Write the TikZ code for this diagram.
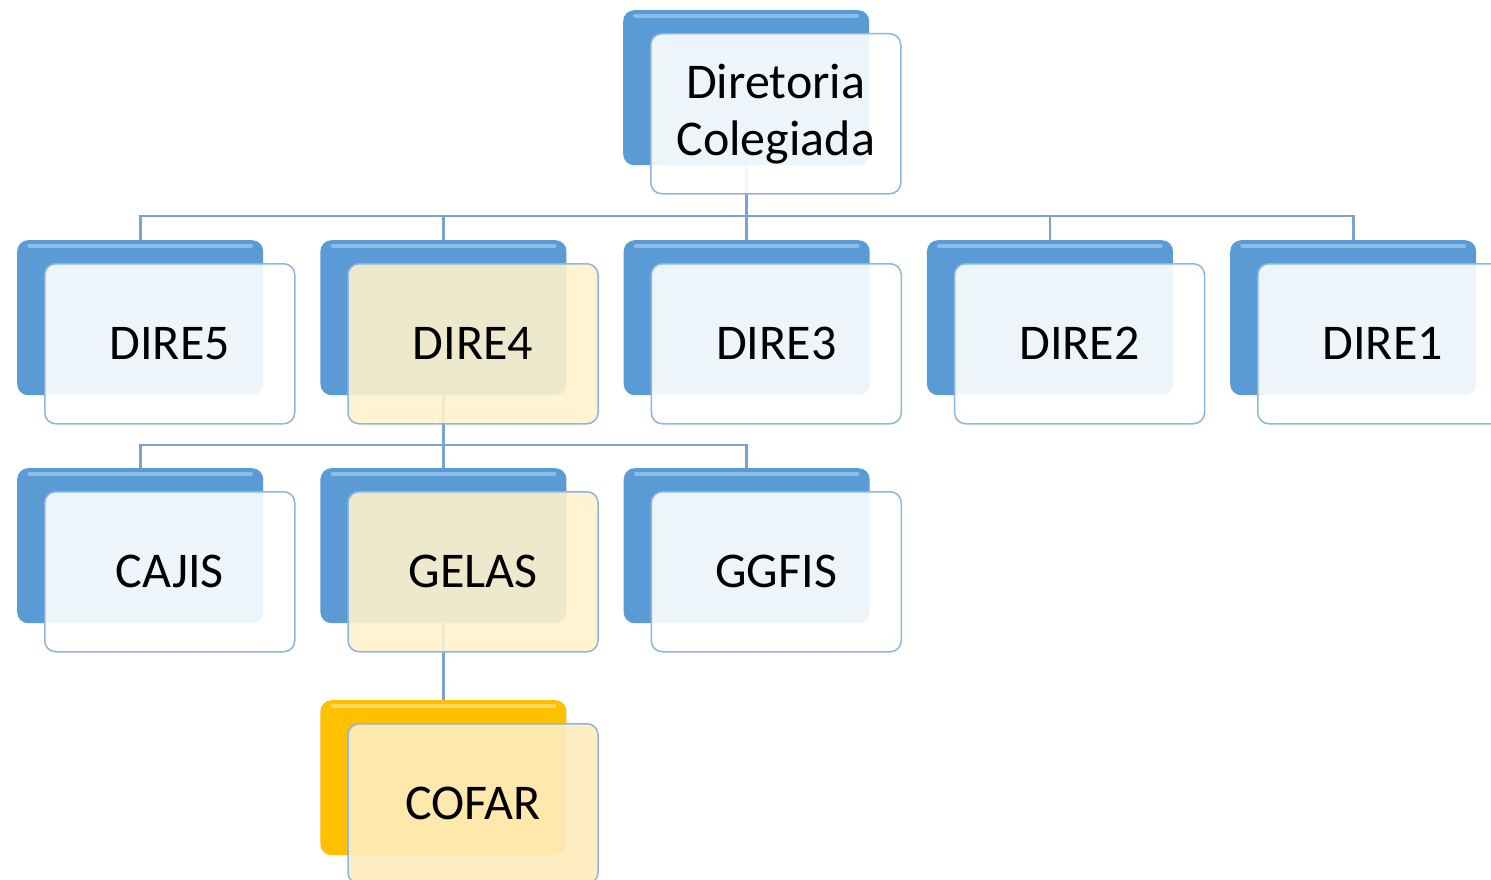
\documentclass[tikz,border=0pt]{standalone}
\usepackage{fontspec}
\setmainfont{Carlito}
\definecolor{backblue}{HTML}{5B9BD5}
\definecolor{backhi}{HTML}{9CC6EE}
\definecolor{backgold}{HTML}{FFC000}
\definecolor{goldhi}{HTML}{FFE27A}
\definecolor{frontedge}{HTML}{8DB4E2}
\definecolor{creamfill}{HTML}{FFF2CC}
\definecolor{cofarfill}{HTML}{FFEDBE}
\definecolor{connblue}{HTML}{7BA3D0}
\pgfdeclarelayer{bg}
\pgfsetlayers{bg,main}
\usetikzlibrary{calc}
\tikzset{
  backbox/.style={rounded corners=11pt, fill=#1, minimum width=246pt, minimum height=155pt, anchor=north west, inner sep=0pt},
  frontbox/.style={rounded corners=11pt, draw=frontedge, line width=1.5pt, fill=#1, fill opacity=0.9, text opacity=1,
     minimum width=250pt, minimum height=160pt, anchor=north west, inner sep=0pt, align=center,
     font=\fontsize{50}{57}\selectfont},
  hiline/.style={line width=3.5pt, line cap=round, #1, opacity=0.75},
  conn/.style={draw=connblue, line width=2.6pt}
}
% \orgunit{name}{x}{y}{back colour}{highlight colour}{front fill}{text}
\newcommand{\orgunit}[7]{%
  \node[backbox=#4] (#1-b) at (#2,#3) {};
  \draw[hiline=#5] ($(#1-b.north west)+(12pt,-6pt)$) -- ($(#1-b.north east)+(-12pt,-6pt)$);
  \node[frontbox=#6] (#1) at ($(#1-b.north west)+(27pt,-23pt)$) {#7};
}
\begin{document}
\begin{tikzpicture}[x=1pt,y=-1pt]
\useasboundingbox (0,0) rectangle (1491,880);
\orgunit{top}{623}{10}{backblue}{backhi}{white}{Diretoria\\Colegiada}
\orgunit{d5}{17}{240}{backblue}{backhi}{white}{DIRE5}
\orgunit{d4}{320.25}{240}{backblue}{backhi}{creamfill}{DIRE4}
\orgunit{d3}{623.5}{240}{backblue}{backhi}{white}{DIRE3}
\orgunit{d2}{926.75}{240}{backblue}{backhi}{white}{DIRE2}
\orgunit{d1}{1230}{240}{backblue}{backhi}{white}{DIRE1}
\orgunit{cajis}{17}{468}{backblue}{backhi}{white}{CAJIS}
\orgunit{gelas}{320.25}{468}{backblue}{backhi}{creamfill}{GELAS}
\orgunit{ggfis}{623.5}{468}{backblue}{backhi}{white}{GGFIS}
\orgunit{cofar}{320.25}{700}{backgold}{goldhi}{cofarfill}{COFAR}
\coordinate (bus1) at (746,216);
\coordinate (bus2) at (443,445);
\begin{pgfonlayer}{bg}
  \fill[white] (0,0) rectangle (1491,880);
  \draw[conn] (top-b.center) -- (top-b.center |- bus1);
  \foreach \n in {d5,d4,d3,d2,d1} {
    \draw[conn] (top-b.center |- bus1) -| (\n-b.north);
  }
  \draw[conn] (d4-b.center) -- (d4-b.center |- bus2);
  \foreach \n in {cajis,gelas,ggfis} {
    \draw[conn] (d4-b.center |- bus2) -| (\n-b.north);
  }
  \draw[conn] (gelas-b.center) -- (cofar-b.north);
\end{pgfonlayer}
\end{tikzpicture}
\end{document}
